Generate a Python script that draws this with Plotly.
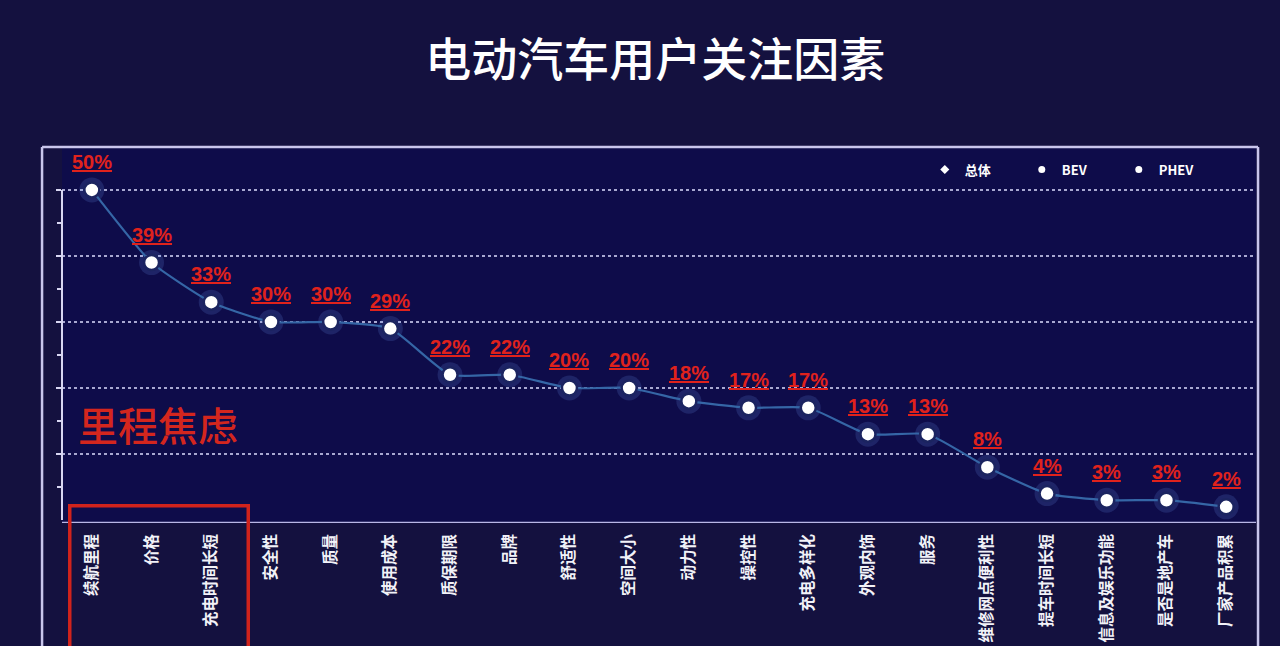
import plotly.graph_objects as go

categories = ["续航里程", "价格", "充电时间长短", "安全性", "质量", "使用成本", "质保期限",
              "品牌", "舒适性", "空间大小", "动力性", "操控性", "充电多样化", "外观内饰",
              "服务", "维修网点便利性", "提车时间长短", "信息及娱乐功能", "是否是地产车", "厂家产品积累"]
values = [50, 39, 33, 30, 30, 29, 22, 22, 20, 20, 18, 17, 17, 13, 13, 8, 4, 3, 3, 2]
legend_names = ["总体", "BEV", "PHEV"]
title_text = "电动汽车用户关注因素"
highlight_text = "里程焦虑"

CJK = "Noto Sans CJK SC"
RED = "#e0221c"

fig = go.Figure()

# glow behind markers
fig.add_trace(go.Scatter(
    x=categories, y=values, mode="markers",
    marker=dict(size=25, color="rgba(120,160,255,0.16)", line=dict(width=0)),
    hoverinfo="skip", showlegend=False))

fig.add_trace(go.Scatter(
    x=categories, y=values, mode="lines+markers", name="总体",
    line=dict(color="#3566a6", width=2.2, shape="spline", smoothing=0.5),
    marker=dict(size=15, color="#ffffff", line=dict(color="#1b2460", width=2.5)),
    showlegend=False))

for i, nm in enumerate(legend_names):
    fig.add_trace(go.Scatter(
        x=[None], y=[None], mode="markers", name=nm,
        marker=dict(size=7, color="white", symbol="diamond" if i == 0 else "circle"),
        showlegend=True))

annotations = []
for c, v in zip(categories, values):
    annotations.append(dict(
        x=c, y=v, xref="x", yref="y", text=f"<b><u>{v}%</u></b>",
        showarrow=False, yshift=28,
        font=dict(family="Liberation Sans, Arial", size=20, color=RED)))

annotations.append(dict(
    x=0.012, xref="paper", y=14.6, yref="y", text=highlight_text,
    xanchor="left", yanchor="middle", showarrow=False,
    font=dict(family=CJK, size=40, color="#d4261e", weight=500)))

shapes = [
    # outer frame
    dict(type="line", xref="paper", yref="paper", x0=-0.0167, x1=1.0017, y0=1, y1=1,
         line=dict(color="#c9c6ec", width=2.5)),
    dict(type="line", xref="paper", yref="paper", x0=-0.0167, x1=-0.0167, y0=1, y1=-0.4,
         line=dict(color="#c9c6ec", width=2.5)),
    dict(type="line", xref="paper", yref="paper", x0=1.0017, x1=1.0017, y0=1, y1=-0.4,
         line=dict(color="#c9c6ec", width=2.5)),
    # y axis line
    dict(type="line", xref="paper", yref="y", x0=0.0, x1=0.0, y0=0, y1=50,
         line=dict(color="#d8d6f2", width=2)),
    # bottom axis line
    dict(type="line", xref="paper", yref="y", x0=0.0, x1=1.0, y0=-0.45, y1=-0.45,
         line=dict(color="#b9b7e6", width=2.5)),
    # red highlight box
    dict(type="rect", xref="x", yref="paper", x0=-0.37, x1=2.62, y0=0.046, y1=-0.5,
         line=dict(color="#d0231c", width=3.5), fillcolor="rgba(0,0,0,0)"),
]

fig.update_layout(
    width=1280, height=646,
    margin=dict(l=62, r=24, t=147, b=123),
    paper_bgcolor="#14113f",
    plot_bgcolor="#0e0c4a",
    title=dict(text=title_text, x=0.512, xanchor="center", y=0.907, yanchor="middle",
               font=dict(family=CJK, size=46, color="white", weight=500)),
    showlegend=True,
    legend=dict(orientation="h", x=0.7226, xanchor="left", y=0.94, yanchor="middle",
                bgcolor="rgba(0,0,0,0)", entrywidth=52, entrywidthmode="pixels",
                itemwidth=30,
                font=dict(family=CJK, size=13, color="white", weight="bold")),
    annotations=annotations,
    shapes=shapes,
    xaxis=dict(type="category", categoryorder="array", categoryarray=categories,
               range=[-0.5, len(categories) - 0.5],
               showgrid=False, zeroline=False, showline=False,
               tickangle=-90, ticks="", ticklabelstandoff=7,
               tickfont=dict(family=CJK, size=15.5, color="#f2f2f8", weight="bold"),
               automargin=False),
    yaxis=dict(range=[-0.45, 56.5], showticklabels=False, zeroline=False, showline=False,
               tickvals=[10, 20, 30, 40, 50], showgrid=True,
               gridcolor="rgba(220,220,255,0.75)", griddash="dot", gridwidth=1.5,
               ticks="outside", ticklen=5, tickwidth=2, tickcolor="#d8d6f2",
               minor=dict(tickvals=[5, 15, 25, 35, 45], ticks="outside", ticklen=4,
                          tickwidth=2, tickcolor="#d8d6f2", showgrid=False),
               automargin=False),
)

fig.write_html("out.html")
